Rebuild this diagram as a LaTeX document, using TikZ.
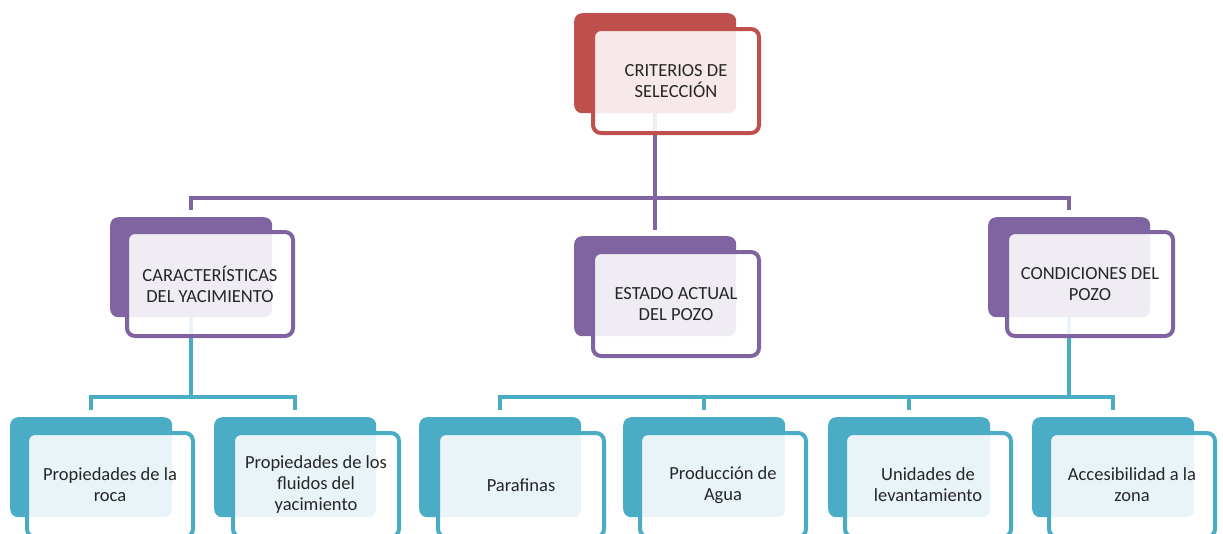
\documentclass[tikz,border=0pt]{standalone}
\usepackage{fontspec}
\setmainfont{Carlito}
\definecolor{cred}{HTML}{C0504D}
\definecolor{cpur}{HTML}{8064A2}
\definecolor{cteal}{HTML}{4BACC6}
\definecolor{ctext}{HTML}{262626}
\tikzset{
  backbox/.style={fill=#1, draw=none, rounded corners=8pt, minimum width=162pt, minimum height=100pt, anchor=north west, inner sep=0pt},
  frontbox/.style={draw=#1, line width=4pt, fill=white, fill opacity=0.88, text opacity=1, rounded corners=8pt, minimum width=166pt, minimum height=104pt, anchor=north west, inner sep=0pt, align=center, text=ctext, font=\fontsize{18.5}{21}\selectfont},
  conn/.style={draw=#1, line width=4.5pt, line join=miter},
}
\begin{document}
\begin{tikzpicture}[x=1pt,y=-1pt]
\useasboundingbox (0,0) rectangle (1223,533);
\clip (0,0) rectangle (1223,533);
% back boxes
\node[backbox=cred] (topB) at (574,13) {};
\node[backbox=cpur] (carB) at (110,217) {};
\node[backbox=cpur] (estB) at (574,236) {};
\node[backbox=cpur] (conB) at (988,217) {};
\node[backbox=cteal] (b1B) at (10,417) {};
\node[backbox=cteal] (b2B) at (214,417) {};
\node[backbox=cteal] (b3B) at (419,417) {};
\node[backbox=cteal] (b4B) at (623,417) {};
\node[backbox=cteal] (b5B) at (828,417) {};
\node[backbox=cteal] (b6B) at (1032,417) {};
% connectors
\coordinate (j1) at (topB.south |- 0,198);
\draw[conn=cpur, shorten >=6pt] (topB.south) -- (estB.north);
\draw[conn=cpur, shorten >=7pt] (j1) -| (carB.north);
\draw[conn=cpur, shorten >=7pt] (j1) -| (conB.north);
\coordinate (j2) at (carB.south |- 0,397);
\draw[conn=cteal] (carB.south) -- (j2);
\draw[conn=cteal, shorten >=7pt] (j2) -| (b1B.north);
\draw[conn=cteal, shorten >=7pt] (j2) -| (b2B.north);
\coordinate (j3) at (conB.south |- 0,397);
\draw[conn=cteal] (conB.south) -- (j3);
\draw[conn=cteal, shorten >=7pt] (j3) -| (b3B.north);
\draw[conn=cteal, shorten >=7pt] (j3) -| (b4B.north);
\draw[conn=cteal, shorten >=7pt] (j3) -| (b5B.north);
\draw[conn=cteal, shorten >=7pt] (j3) -| (b6B.north);
% front boxes
\node[frontbox=cred] (top) at ([shift={(17,14)}]topB.north west) {CRITERIOS DE\\SELECCIÓN};
\node[frontbox=cpur] (car) at ([shift={(15,13)}]carB.north west) {CARACTERÍSTICAS\\DEL YACIMIENTO};
\node[frontbox=cpur] (est) at ([shift={(17,14)}]estB.north west) {ESTADO ACTUAL\\DEL POZO};
\node[frontbox=cpur] (con) at ([shift={(17,13)}]conB.north west) {CONDICIONES DEL\\POZO};
\node[frontbox=cteal] (b1) at ([shift={(15,14)}]b1B.north west) {Propiedades de la\\roca};
\node[frontbox=cteal] (b2) at ([shift={(17,14)}]b2B.north west) {Propiedades de los\\fluidos del\\yacimiento};
\node[frontbox=cteal] (b3) at ([shift={(17,14)}]b3B.north west) {Parafinas};
\node[frontbox=cteal] (b4) at ([shift={(15,14)}]b4B.north west) {Producción de\\Agua};
\node[frontbox=cteal] (b5) at ([shift={(15,14)}]b5B.north west) {Unidades de\\levantamiento};
\node[frontbox=cteal] (b6) at ([shift={(15,14)}]b6B.north west) {Accesibilidad a la\\zona};
\end{tikzpicture}
\end{document}
